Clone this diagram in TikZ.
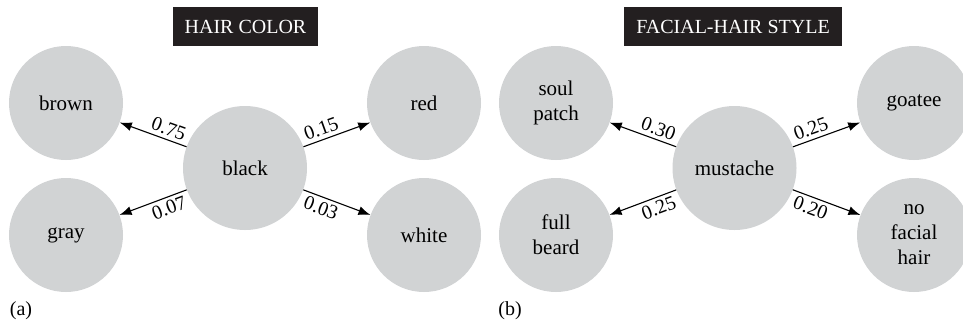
\documentclass[tikz,border=0pt]{standalone}
\usepackage{fontspec}
\setmainfont{Liberation Serif}
\usetikzlibrary{arrows.meta}
\definecolor{circgray}{RGB}{209,211,212}
\definecolor{boxblack}{RGB}{35,31,32}
\begin{document}
\begin{tikzpicture}[x=1pt,y=-1pt,
  state/.style={circle, fill=circgray, minimum size=114pt, inner sep=0pt, align=center, font=\fontsize{21}{25}\selectfont},
  bigstate/.style={state, minimum size=124pt},
  titlebox/.style={fill=boxblack, text=white, font=\fontsize{20}{24}\selectfont, minimum height=39pt, inner xsep=12pt},
  link/.style={-{Latex[length=12pt,width=9pt]}, line width=1.1pt},
  prob/.style={font=\fontsize{20}{24}\selectfont, sloped, inner sep=3.5pt, pos=0.32},
  panel/.style={font=\fontsize{20}{24}\selectfont, inner sep=0pt}
]
\useasboundingbox (0,0) rectangle (963,322);
\clip (0,0) rectangle (963,322);

% panel (a)
\node[titlebox] (t1) at (245.5,26.5) {HAIR COLOR};
\node[bigstate] (black) at (245,168) {black};
\node[state] (brown) at (66,103) {brown};
\node[state] (gray) at (66,235) {gray};
\node[state] (red) at (424,103) {red};
\node[state] (white) at (424,235) {white};
\draw[link] (black) -- node[prob, above] {0.75} (brown);
\draw[link] (black) -- node[prob, below] {0.07} (gray);
\draw[link] (black) -- node[prob, above] {0.15} (red);
\draw[link] (black) -- node[prob, below] {0.03} (white);
\node[panel] (la) at (21,311) {(a)};

% panel (b)
\node[titlebox] (t2) at (733,26.5) {FACIAL-HAIR STYLE};
\node[bigstate] (must) at (734.5,168) {mustache};
\node[state] (soul) at (556,103) {soul\\patch};
\node[state] (full) at (556,235) {full\\beard};
\node[state] (goat) at (914,103) {goatee};
\node[state] (none) at (914,235) {no\\facial\\hair};
\draw[link] (must) -- node[prob, above] {0.30} (soul);
\draw[link] (must) -- node[prob, below] {0.25} (full);
\draw[link] (must) -- node[prob, above] {0.25} (goat);
\draw[link] (must) -- node[prob, below] {0.20} (none);
\node[panel] (lb) at (510,311) {(b)};
\end{tikzpicture}
\end{document}
